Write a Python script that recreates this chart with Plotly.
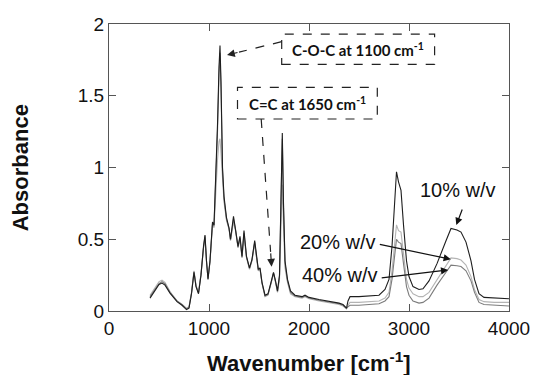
import plotly.graph_objects as go

wavenumber = [
    410, 450, 500, 530, 560, 610, 680, 730, 775, 800,
    825, 850, 870, 895, 920, 945, 960, 975, 990, 1010,
    1035, 1050, 1065, 1085, 1100, 1110, 1120, 1135, 1150, 1175,
    1200, 1215, 1245, 1265, 1290, 1310, 1330, 1350, 1375, 1405,
    1430, 1457, 1475, 1493, 1510, 1530, 1560, 1590, 1620, 1645,
    1665, 1685, 1705, 1720, 1733, 1745, 1760, 1785, 1815, 1860,
    1930, 1960, 2000, 2100, 2200, 2300, 2340, 2360, 2375, 2390,
    2410, 2500, 2600, 2700, 2760, 2800, 2830, 2855, 2875, 2895,
    2920, 2945, 2975, 3000, 3040, 3100, 3140, 3200, 3280, 3370,
    3420, 3480, 3520, 3570, 3620, 3655, 3700, 3750, 3850, 4000,
]

abs_10 = [
    0.09, 0.13, 0.185, 0.195, 0.18, 0.125, 0.065, 0.04, 0.01, 0.02,
    0.12, 0.27, 0.17, 0.12, 0.25, 0.45, 0.53, 0.35, 0.22, 0.35,
    0.62, 0.60, 0.85, 1.30, 1.70, 1.85, 1.60, 1.00, 0.80, 0.65,
    0.58, 0.50, 0.66, 0.58, 0.45, 0.52, 0.38, 0.56, 0.38, 0.30,
    0.36, 0.49, 0.38, 0.29, 0.30, 0.20, 0.11, 0.12, 0.20, 0.27,
    0.21, 0.14, 0.25, 0.80, 1.24, 0.75, 0.35, 0.22, 0.14, 0.11,
    0.10, 0.11, 0.095, 0.08, 0.07, 0.055, 0.045, 0.03, 0.02, 0.07,
    0.10, 0.10, 0.105, 0.11, 0.15, 0.22, 0.45, 0.75, 0.97, 0.90,
    0.84, 0.60, 0.35, 0.24, 0.17, 0.15, 0.155, 0.21, 0.33, 0.49,
    0.575, 0.565, 0.55, 0.48, 0.35, 0.22, 0.12, 0.095, 0.09, 0.085,
]

abs_20 = [
    0.11, 0.15, 0.205, 0.215, 0.20, 0.135, 0.07, 0.045, 0.02, 0.03,
    0.13, 0.28, 0.18, 0.13, 0.26, 0.44, 0.51, 0.34, 0.23, 0.34,
    0.60, 0.58, 0.80, 1.05, 1.18, 1.20, 1.10, 0.90, 0.76, 0.63,
    0.57, 0.49, 0.62, 0.56, 0.44, 0.50, 0.37, 0.53, 0.37, 0.29,
    0.35, 0.47, 0.37, 0.28, 0.29, 0.19, 0.10, 0.11, 0.19, 0.26,
    0.20, 0.13, 0.22, 0.60, 0.88, 0.60, 0.30, 0.20, 0.12, 0.10,
    0.09, 0.10, 0.085, 0.07, 0.06, 0.045, 0.035, 0.025, 0.015, 0.04,
    0.06, 0.06, 0.065, 0.07, 0.09, 0.13, 0.28, 0.48, 0.60, 0.56,
    0.55, 0.40, 0.22, 0.16, 0.12, 0.10, 0.10, 0.13, 0.22, 0.32,
    0.37, 0.365, 0.355, 0.32, 0.24, 0.15, 0.08, 0.065, 0.06, 0.06,
]

abs_40 = [
    0.10, 0.14, 0.19, 0.205, 0.19, 0.13, 0.07, 0.045, 0.015, 0.025,
    0.125, 0.275, 0.175, 0.125, 0.255, 0.44, 0.52, 0.345, 0.225, 0.345,
    0.61, 0.59, 0.83, 1.25, 1.65, 1.80, 1.55, 0.98, 0.78, 0.64,
    0.575, 0.495, 0.64, 0.57, 0.445, 0.51, 0.375, 0.545, 0.375, 0.295,
    0.355, 0.48, 0.375, 0.285, 0.295, 0.195, 0.105, 0.115, 0.195, 0.265,
    0.205, 0.135, 0.24, 0.78, 1.20, 0.72, 0.33, 0.21, 0.13, 0.105,
    0.095, 0.105, 0.09, 0.075, 0.065, 0.05, 0.04, 0.028, 0.018, 0.03,
    0.04, 0.04, 0.045, 0.05, 0.07, 0.10, 0.22, 0.40, 0.50, 0.48,
    0.47, 0.33, 0.17, 0.11, 0.07, 0.055, 0.06, 0.09, 0.18, 0.27,
    0.32, 0.315, 0.31, 0.28, 0.21, 0.13, 0.06, 0.045, 0.04, 0.035,
]

series_names = ["20% w/v", "40% w/v", "10% w/v"]
series_values = [abs_20, abs_40, abs_10]
series_colors = ["#b4b4b4", "#7c7c7c", "#1e1e1e"]

x_ticks = [0, 1000, 2000, 3000, 4000]
y_ticks = [0, 0.5, 1, 1.5, 2]

fig = go.Figure()
for name, vals, col in zip(series_names, series_values, series_colors):
    fig.add_trace(go.Scatter(x=wavenumber, y=vals, mode="lines", name=name,
                             line=dict(color=col, width=1.1)))

axis_common = dict(showline=True, linecolor="#555555", linewidth=1, mirror="ticks",
                   ticks="inside", ticklen=7, tickcolor="#555555", tickwidth=1,
                   showgrid=False, zeroline=False,
                   tickfont=dict(family="Liberation Sans, Arial", size=19, color="#111"))

fig.update_layout(
    width=542, height=375,
    margin=dict(l=109, r=23, t=24, b=64),
    paper_bgcolor="white", plot_bgcolor="white",
    showlegend=False,
    xaxis=dict(range=[0, 4000], tickvals=x_ticks, ticktext=[str(v) for v in x_ticks], **axis_common),
    yaxis=dict(range=[0, 2], tickvals=y_ticks, ticktext=["0", "0.5", "1", "1.5", "2"], **axis_common),
)

# axis titles
fig.add_annotation(xref="paper", yref="paper", x=0.499, y=-0.178, xanchor="center", yanchor="middle",
                   text="<b>Wavenumber [cm<sup>-1</sup>]</b>", showarrow=False,
                   font=dict(family="Liberation Sans, Arial", size=22, color="#111"))
fig.add_annotation(xref="paper", yref="paper", x=-0.222, y=0.498, xanchor="center", yanchor="middle",
                   text="<b>Absorbance</b>", textangle=-90, showarrow=False,
                   font=dict(family="Liberation Sans, Arial", size=22, color="#111"))

box_font = dict(family="Lato, Open Sans", size=15, color="#111")
dash_line = dict(color="#222", width=1.2, dash="dash")

# dashed boxes
fig.add_shape(type="rect", xref="x", yref="y", x0=1727, x1=3256, y0=1.719, y1=1.930, line=dash_line)
fig.add_shape(type="rect", xref="x", yref="y", x0=1285, x1=2683, y0=1.338, y1=1.559, line=dash_line)
fig.add_annotation(x=2491, y=1.825, xref="x", yref="y", showarrow=False,
                   text="<b>C-O-C at 1100 cm<sup>-1</sup></b>", font=box_font)
fig.add_annotation(x=1984, y=1.449, xref="x", yref="y", showarrow=False,
                   text="<b>C=C at 1650 cm<sup>-1</sup></b>", font=box_font)

# dashed arrow lines
fig.add_shape(type="line", xref="x", yref="y", x0=1727, y0=1.877, x1=1300, y1=1.804, line=dash_line)
fig.add_shape(type="line", xref="x", yref="y", x0=1522, y0=1.338, x1=1616, y1=0.412, line=dash_line)
# arrowheads
fig.add_annotation(x=1180, y=1.784, ax=1300, ay=1.804, xref="x", yref="y", axref="x", ayref="y",
                   text="", showarrow=True, arrowhead=2, arrowsize=1.3, arrowwidth=1.2, arrowcolor="#222")
fig.add_annotation(x=1626, y=0.309, ax=1616, ay=0.412, xref="x", yref="y", axref="x", ayref="y",
                   text="", showarrow=True, arrowhead=2, arrowsize=1.3, arrowwidth=1.2, arrowcolor="#222")

label_font = dict(family="Liberation Sans, Arial", size=20, color="#111")
fig.add_annotation(x=3493, y=0.843, xref="x", yref="y", showarrow=False, text="10% w/v", font=label_font)
fig.add_annotation(x=1893, y=0.481, xref="x", yref="y", showarrow=False, text="20% w/v",
                   xanchor="left", font=label_font)
fig.add_annotation(x=1912, y=0.251, xref="x", yref="y", showarrow=False, text="40% w/v",
                   xanchor="left", font=label_font)

# solid arrows
fig.add_annotation(x=3473, y=0.599, ax=3538, ay=0.718, xref="x", yref="y", axref="x", ayref="y",
                   text="", showarrow=True, arrowhead=2, arrowsize=1.2, arrowwidth=1.2, arrowcolor="#111")
fig.add_annotation(x=3418, y=0.360, ax=2693, ay=0.467, xref="x", yref="y", axref="x", ayref="y",
                   text="", showarrow=True, arrowhead=2, arrowsize=1.2, arrowwidth=1.2, arrowcolor="#111")
fig.add_annotation(x=3392, y=0.286, ax=2712, ay=0.230, xref="x", yref="y", axref="x", ayref="y",
                   text="", showarrow=True, arrowhead=2, arrowsize=1.2, arrowwidth=1.2, arrowcolor="#111")

fig.write_html("out.html", config={"displayModeBar": False},
               post_script="document.body.style.margin='0';document.body.style.overflow='hidden';")
